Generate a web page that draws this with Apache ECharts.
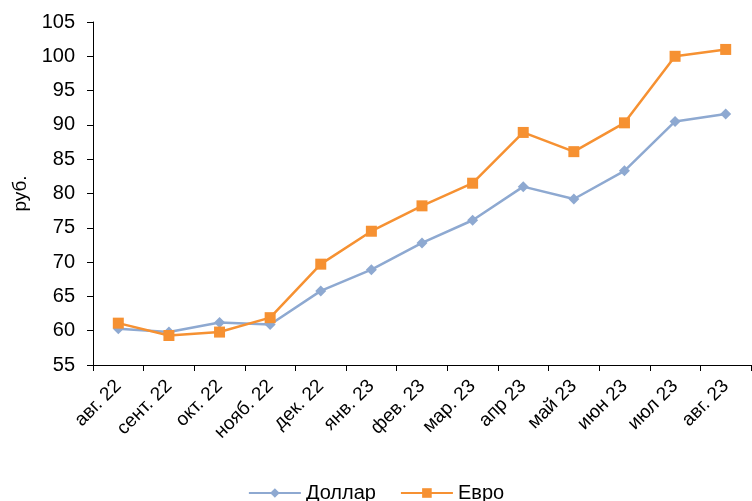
<!DOCTYPE html>
<html><head><meta charset="utf-8">
<script src="https://cdn.jsdelivr.net/npm/echarts@6/dist/echarts.min.js"></script>
<style>html,body{margin:0;padding:0;background:#fff}#c{width:752px;height:501px}</style>
</head><body><div id="c"></div>
<script>
const categories = ['авг. 22','сент. 22','окт. 22','нояб. 22','дек. 22','янв. 23','фев. 23','мар. 23','апр 23','май 23','июн 23','июл 23','авг. 23'];
const dollar = [60.3, 59.8, 61.2, 60.9, 65.8, 68.9, 72.8, 76.1, 81.0, 79.2, 83.3, 90.5, 91.6];
const euro = [61.1, 59.3, 59.8, 61.9, 69.7, 74.5, 78.2, 81.5, 88.9, 86.1, 90.3, 100.0, 101.0];
const yMin = 55, yMax = 105, yStep = 5;
const font = 'Liberation Sans, Arial, sans-serif';
const chart = echarts.init(document.getElementById('c'));
chart.setOption({
  animation: false,
  grid: {left: 93, right: 1, top: 22, bottom: 136},
  xAxis: {
    type: 'category', data: categories, boundaryGap: true,
    axisLine: {lineStyle: {color: '#000', width: 1}},
    axisTick: {show: true, length: 6, lineStyle: {color: '#000'}},
    axisLabel: {rotate: 45, margin: 18, fontSize: 19, color: '#000', fontFamily: font, interval: 0}
  },
  yAxis: {
    type: 'value', min: yMin, max: yMax, interval: yStep,
    name: 'руб.', nameLocation: 'middle', nameGap: 62, nameRotate: 90,
    nameTextStyle: {fontSize: 19, color: '#000', fontFamily: font},
    splitLine: {show: false},
    axisLine: {show: true, lineStyle: {color: '#000', width: 1}},
    axisTick: {show: true, length: 6, lineStyle: {color: '#000'}},
    axisLabel: {fontSize: 20, color: '#000', fontFamily: font, margin: 18}
  },
  legend: {
    top: 478, left: 'center', itemWidth: 52, itemHeight: 12, itemGap: 24,
    textStyle: {fontSize: 20, color: '#000', fontFamily: font},
    data: ['Доллар','Евро']
  },
  series: [
    {name: 'Доллар', type: 'line', data: dollar, symbol: 'diamond', symbolSize: 11,
     lineStyle: {color: '#8EA9D1', width: 2.5}, itemStyle: {color: '#8EA9D1'}},
    {name: 'Евро', type: 'line', data: euro, symbol: 'rect', symbolSize: 11,
     lineStyle: {color: '#F69132', width: 2.5}, itemStyle: {color: '#F69132'}}
  ]
});
</script></body></html>
